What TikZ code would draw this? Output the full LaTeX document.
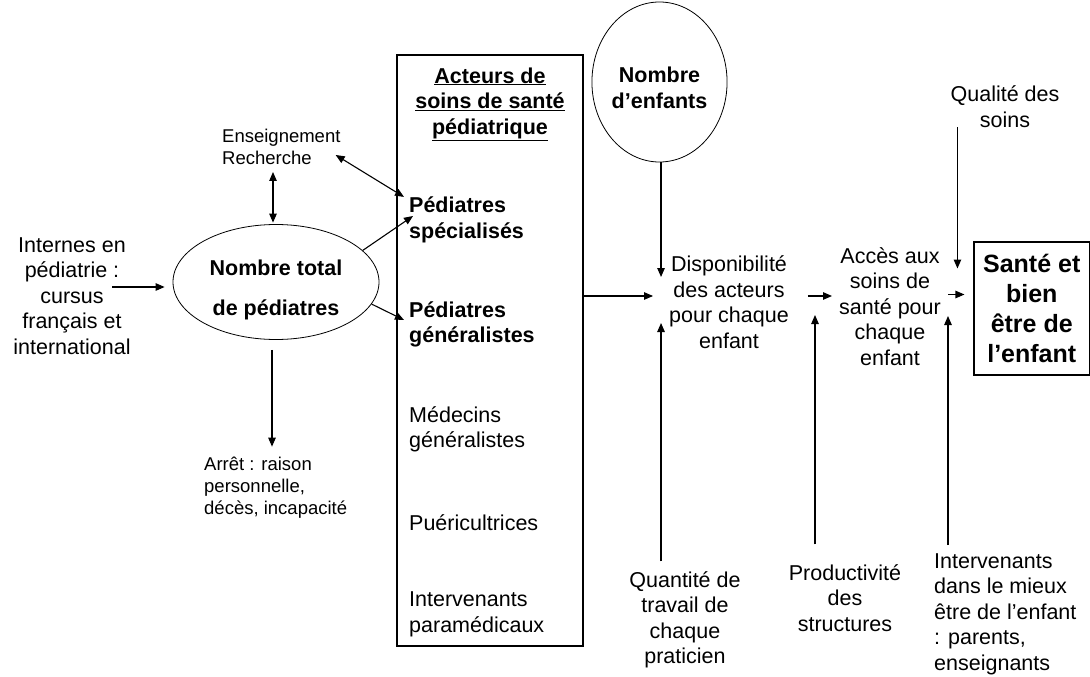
\documentclass[tikz,border=0pt]{standalone}
\usepackage{fontspec}
\setmainfont{Liberation Sans}
\usepackage{tikz}
\usetikzlibrary{positioning, arrows.meta, calc, shapes.geometric}
\newcommand\bodysize{\fontsize{21.5}{25.5}\selectfont}
\newcommand\notesize{\fontsize{18.5}{22}\selectfont}
\newcommand\goalsize{\fontsize{25}{30}\selectfont}

\begin{document}
\begin{tikzpicture}[
  x=1pt, y=-1pt,
  txt/.style={inner sep=0pt, align=center, font=\bodysize},
  txtl/.style={inner sep=0pt, align=left, anchor=west, font=\bodysize},
  note/.style={inner sep=0pt, align=left, anchor=west, font=\notesize},
  bubble/.style={ellipse, draw, line width=0.8pt, inner sep=0pt, align=center,
    font=\bodysize\bfseries},
  frame/.style={rectangle, draw, line width=1.1pt, inner sep=0pt},
  arr/.style={-{Triangle[length=9pt, width=7.5pt]}, line width=1.1pt},
  dblarr/.style={{Triangle[length=9pt, width=7.5pt]}-{Triangle[length=9pt, width=7.5pt]}, line width=1.1pt}
]
\useasboundingbox (0,0) rectangle (1090,677);

\node[txt] (internes) at (72,296) {Internes en\\pédiatrie :\\cursus\\français et\\international};

\node[bubble, minimum width=206, minimum height=115] (total) at (276,282)
  {\rule{0pt}{31.5pt}Nombre total\\[14.5pt]de pédiatres};

\node[note] (ens) at (222,147) {Enseignement\\Recherche};
\node[note] (arret) at (204,487.5) {Arrêt : raison\\personnelle,\\décès, incapacité};

\node[frame, minimum width=186, minimum height=591] (acteurs) at (490,350.5) {};
\node[txt, font=\bodysize\bfseries] (titre) at (490,104)
  {\underline{Acteurs de}\\\underline{soins de santé}\\\underline{pédiatrique}};
\node[txtl, font=\bodysize\bfseries] (spec) at (409,220) {Pédiatres\\spécialisés};
\node[txtl, font=\bodysize\bfseries] (gen) at (409,324.5) {Pédiatres\\généralistes};
\node[txtl] (med) at (409,429.5) {Médecins\\généralistes};
\node[txtl] (pueri) at (409,523) {Puéricultrices};
\node[txtl] (para) at (409,614.5) {Intervenants\\paramédicaux};

\node[bubble, minimum width=133, minimum height=160] (enfants) at (659.5,82)
  {\rule{0pt}{27.5pt}Nombre\\d’enfants};

\node[txt] (dispo) at (729,302) {Disponibilité\\des acteurs\\pour chaque\\enfant};
\node[txt] (acces) at (890,306.5) {Accès aux\\soins de\\santé pour\\chaque\\enfant};
\node[txt] (qualite) at (1005,106.5) {Qualité des\\soins};
\node[frame, minimum width=115.5, minimum height=133, align=center,
  font=\goalsize\bfseries] (sante) at (1031.75,308.5) {Santé et\\bien\\être de\\l’enfant};

\node[txt] (quantite) at (685,620) {Quantité de\\travail de\\chaque\\praticien};
\node[txt] (produc) at (845,598) {Productivité\\des\\structures};
\node[txtl] (interv) at (934,614) {Intervenants\\dans le mieux\\être de l’enfant\\: parents,\\enseignants};

\coordinate (dispoin) at ($(dispo.west)+(-8pt,0pt)$);
\coordinate (qtip) at ($(sante.west)+(-16pt,40pt)$);

\draw[arr] ($(internes.center)+(40pt,9pt)$) -- ($(total.west)+(-8pt,-5pt)$);
\draw[dblarr] ($(ens.south -| total.north)+(-3pt,-7pt)$) -- ($(total.north)+(-3pt,1.5pt)$);
\draw[dblarr] ($(ens.east)+(-5pt,-8pt)$) -- ($(spec.north west)+(-5pt,0pt)$);
\draw[arr] (total.20) -- ($(spec.west)+(4pt,4pt)$);
\draw[arr] (total.-13) -- ($(gen.west)+(-5pt,4.5pt)$);
\draw[arr] ($(total.south)+(-4pt,-10pt)$) -- ($(total.south |- arret.north)+(-4pt,10pt)$);

\draw[arr] (enfants.south -| dispoin) -- ($(dispoin)+(0pt,25pt)$);
\draw[arr] ($(dispoin -| acteurs.east)+(0pt,6pt)$) -- ($(dispoin)+(-8pt,6pt)$);
\draw[arr] ($(quantite.north -| dispoin)+(0pt,10pt)$) -- ($(dispoin)+(0pt,-21pt)$);

\draw[arr] ($(dispo.east)+(19pt,6pt)$) -- ($(dispo.east -| acces.west)+(-7pt,6pt)$);
\draw[arr] ($(produc.north)+(-30pt,20pt)$) -- ($(acces.west -| produc.north)+(-30pt,-8.5pt)$);
\draw[arr] ($(acces.east)+(7pt,12pt)$) -- ($(acces.east -| sante.west)+(-9pt,12pt)$);
\draw[arr] (qualite.south -| qtip) -- (qtip);
\draw[arr] ($(interv.north west)+(14pt,8pt)$) -- ($(acces.east -| interv.north west)+(14pt,-9.5pt)$);

\end{tikzpicture}
\end{document}
